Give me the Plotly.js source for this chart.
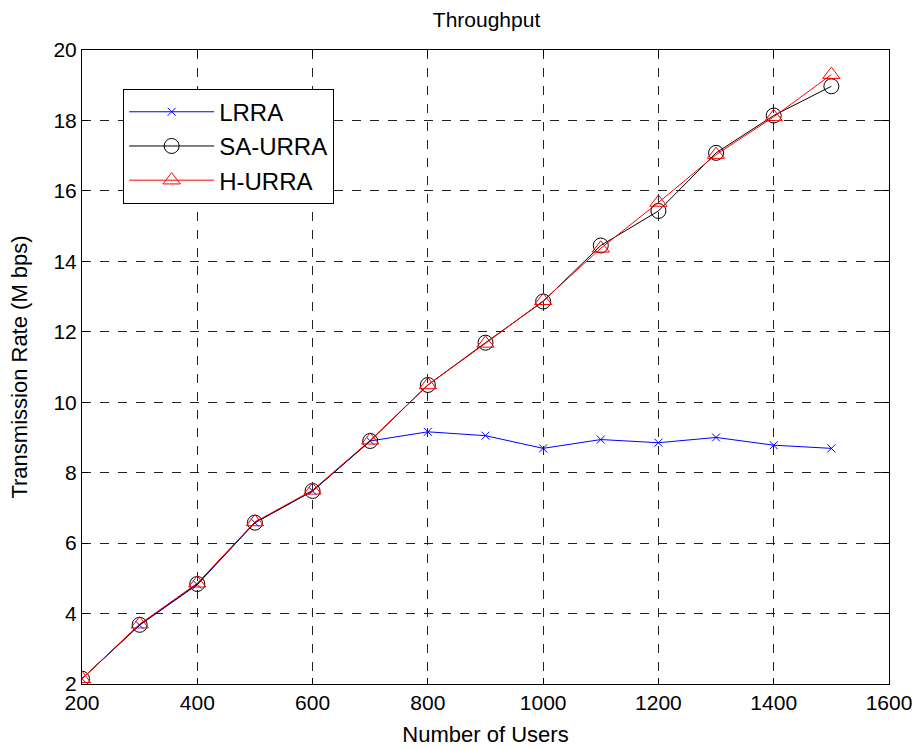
<!DOCTYPE html>
<html>
<head>
<meta charset="utf-8">
<script src="https://cdn.plot.ly/plotly-3.0.1.min.js"></script>
<style>body{margin:0;padding:0;background:#fff;} #chart{width:918px;height:749px;}</style>
</head>
<body>
<div id="chart"></div>
<script>
const users = [200, 300, 400, 500, 600, 700, 800, 900, 1000, 1100, 1200, 1300, 1400, 1500];
const lrra = [2.15, 3.67, 4.82, 6.58, 7.48, 8.90, 9.16, 9.05, 8.69, 8.94, 8.85, 9.00, 8.78, 8.69];
const saUrra = [2.15, 3.68, 4.84, 6.58, 7.48, 8.90, 10.49, 11.69, 12.86, 14.45, 15.43, 17.08, 18.14, 18.97];
const hUrra = [2.15, 3.70, 4.86, 6.60, 7.50, 8.92, 10.49, 11.67, 12.88, 14.37, 15.67, 17.03, 18.10, 19.30];
const seriesNames = ["LRRA", "SA-URRA", "H-URRA"];
const xTicks = [200, 400, 600, 800, 1000, 1200, 1400, 1600];
const yTicks = [2, 4, 6, 8, 10, 12, 14, 16, 18, 20];

const font = "Liberation Sans, Arial, sans-serif";
const traces = [
  {x: users, y: lrra, name: seriesNames[0], legendgroup: "a", mode: "lines+markers",
   line: {color: "#0000ff", width: 1},
   marker: {symbol: "x-thin-open", size: 8, color: "#0000ff", line: {color: "#0000ff", width: 1}}},
  {x: users, y: saUrra, name: seriesNames[1], legendgroup: "b", mode: "lines+markers",
   line: {color: "#000000", width: 1},
   marker: {symbol: "circle-open", size: 15, color: "#000000", line: {color: "#000000", width: 1}}},
  {x: users, y: hUrra, name: seriesNames[2], legendgroup: "c", mode: "lines+markers",
   line: {color: "#ff0000", width: 1},
   marker: {symbol: "triangle-up-open", size: 15, color: "#ff0000", line: {color: "#ff0000", width: 1}}}
];
const axisCommon = {
  showline: true, linecolor: "#000", linewidth: 1, mirror: "ticks",
  ticks: "inside", ticklen: 6, tickcolor: "#000",
  showgrid: true, gridcolor: "#222", griddash: "dash", gridwidth: 1,
  zeroline: false, tickfont: {family: font, size: 21, color: "#000"}
};
const layout = {
  width: 918, height: 749,
  margin: {l: 82, r: 29, t: 50, b: 65},
  paper_bgcolor: "#fff", plot_bgcolor: "#fff",
  title: {text: "Throughput", font: {family: font, size: 21, color: "#000"}, x: 0.53, xanchor: "center", y: 0.974, yanchor: "middle"},
  xaxis: Object.assign({}, axisCommon, {range: [200, 1600], tickvals: xTicks,
    title: {text: "Number of Users", font: {family: font, size: 22, color: "#000"}, standoff: 13}}),
  yaxis: Object.assign({}, axisCommon, {range: [2, 20], tickvals: yTicks,
    title: {text: "Transmission Rate (M bps)", font: {family: font, size: 22, color: "#000"}, standoff: 19}}),
  showlegend: true,
  legend: {x: 0.051, y: 0.939, xanchor: "left", yanchor: "top",
    bgcolor: "#fff", bordercolor: "#000", borderwidth: 1,
    font: {family: font, size: 24, color: "#000"}, itemwidth: 85, tracegroupgap: 0}
};
Plotly.newPlot("chart", traces, layout, {displayModeBar: false});
</script>
</body>
</html>
